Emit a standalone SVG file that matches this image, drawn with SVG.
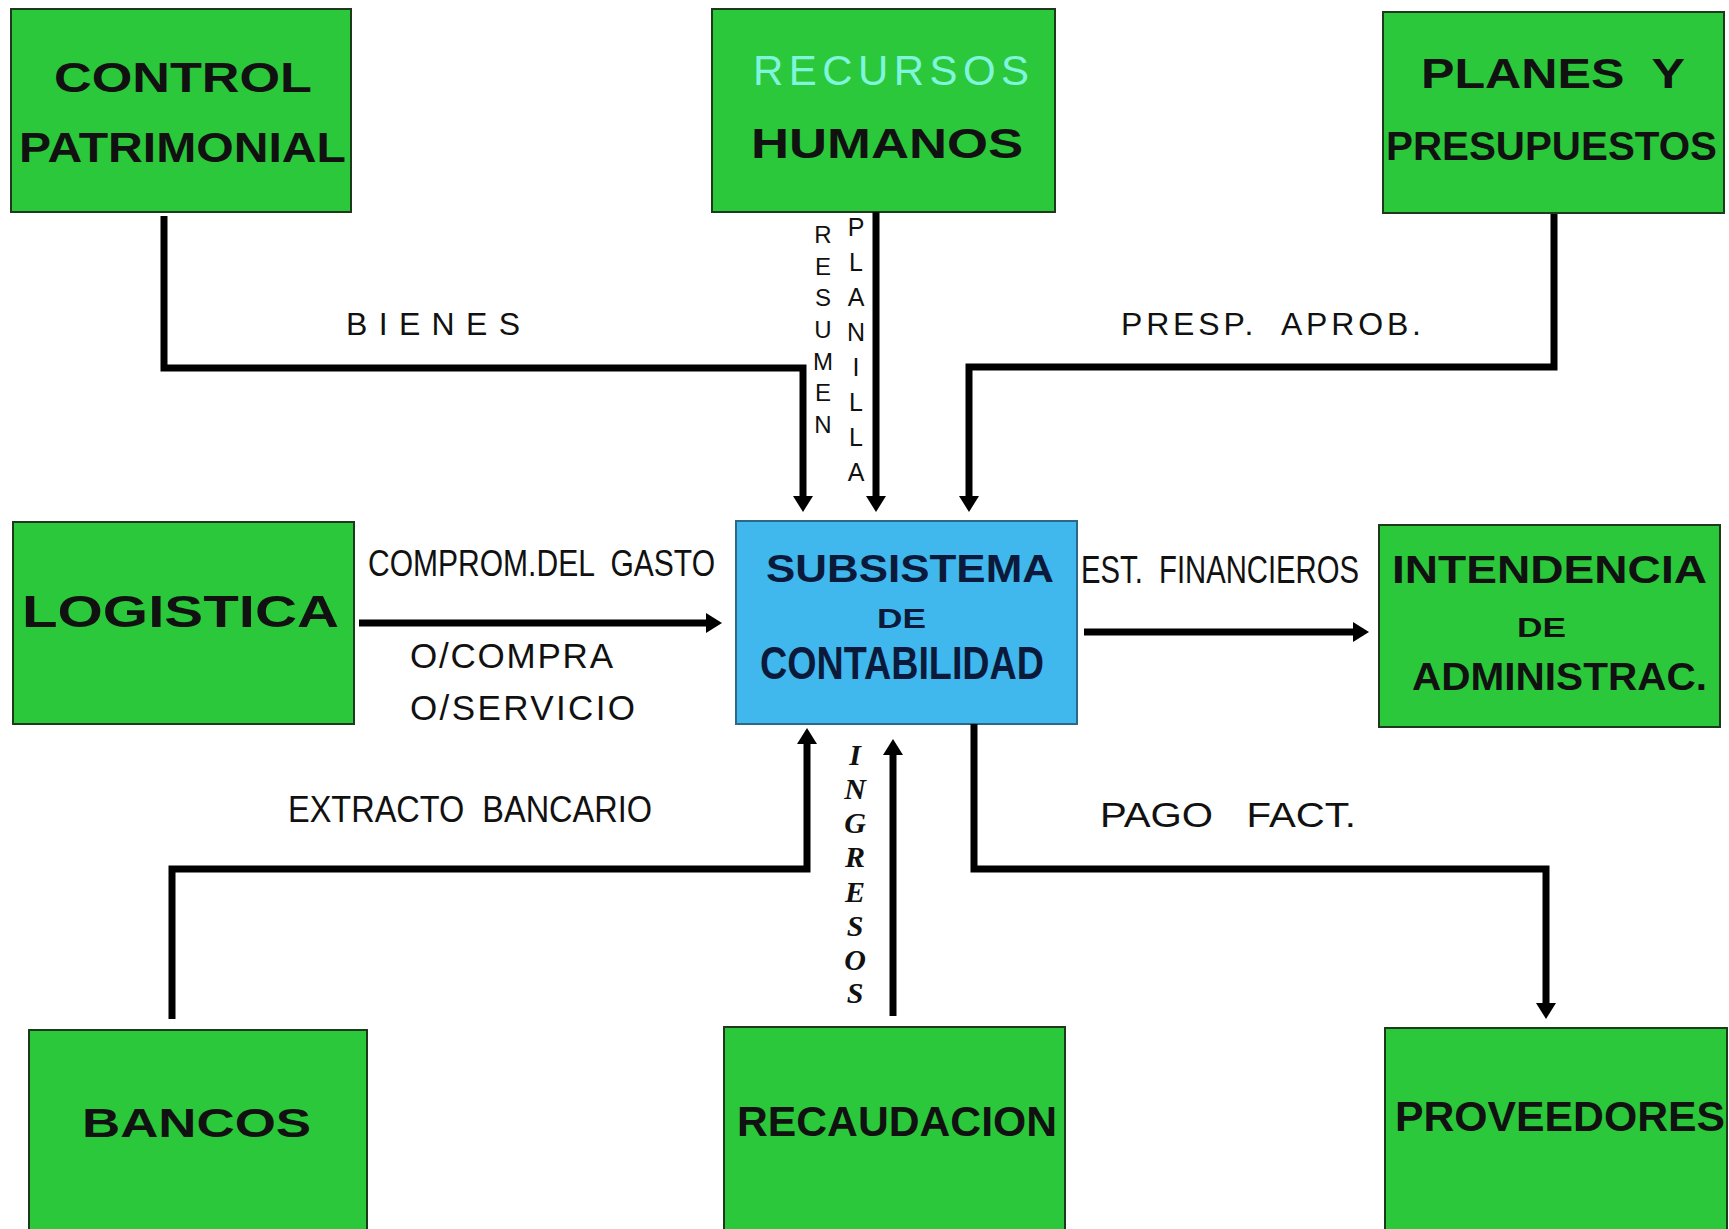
<svg xmlns="http://www.w3.org/2000/svg" width="1729" height="1229" viewBox="0 0 1729 1229">
<style>
.box{fill:#2bc83b;stroke:#1d3a1d;stroke-width:2}
.core{fill:#40b8ee;stroke:#2a6a88;stroke-width:2}
.bl{font-family:"Liberation Sans",Arial,sans-serif;font-weight:bold;fill:#111}
.cl{font-family:"Liberation Sans",Arial,sans-serif;font-weight:bold;fill:#0b1a3a}
.lb{font-family:"Liberation Sans",Arial,sans-serif;fill:#111;white-space:pre}
.vt{font-family:"Liberation Sans",Arial,sans-serif;fill:#111;text-anchor:middle}
.it{font-family:"Liberation Serif","Times New Roman",serif;font-style:italic;font-weight:bold;fill:#111;text-anchor:middle}
.con{fill:none;stroke:#000;stroke-width:7;stroke-linejoin:miter;marker-end:url(#ah)}
</style>
<defs>
<marker id="ah" viewBox="0 0 16 20" refX="5" refY="10" markerWidth="16" markerHeight="20" markerUnits="userSpaceOnUse" orient="auto">
<path d="M0,0 L16,10 L0,20 z" fill="#000"/>
</marker>
</defs>
<rect width="1729" height="1229" fill="#fff"/>

<g id="control-patrimonial">
<rect class="box" x="11" y="9" width="340" height="203"/>
<text class="bl" x="54" y="92" font-size="42" textLength="258" lengthAdjust="spacingAndGlyphs">CONTROL</text>
<text class="bl" x="19" y="162" font-size="42" textLength="327" lengthAdjust="spacingAndGlyphs">PATRIMONIAL</text>
</g>

<g id="recursos-humanos">
<rect class="box" x="712" y="9" width="343" height="203"/>
<text x="753" y="85" font-size="42" textLength="276" style="font-family:'Liberation Sans',Arial,sans-serif;fill:#80f5dc">RECURSOS</text>
<text class="bl" x="751" y="158" font-size="42" textLength="272" lengthAdjust="spacingAndGlyphs">HUMANOS</text>
</g>

<g id="planes-presupuestos">
<rect class="box" x="1383" y="12" width="341" height="201"/>
<text class="bl" x="1421" y="88" font-size="42" textLength="264" lengthAdjust="spacingAndGlyphs" style="white-space:pre">PLANES  Y</text>
<text class="bl" x="1386" y="160" font-size="41" textLength="331" lengthAdjust="spacingAndGlyphs">PRESUPUESTOS</text>
</g>

<g id="logistica">
<rect class="box" x="13" y="522" width="341" height="202"/>
<text class="bl" x="22" y="627" font-size="44" textLength="317" lengthAdjust="spacingAndGlyphs">LOGISTICA</text>
</g>

<g id="subsistema-contabilidad">
<rect class="core" x="736" y="521" width="341" height="203"/>
<text class="cl" x="766" y="582" font-size="39" textLength="288" lengthAdjust="spacingAndGlyphs">SUBSISTEMA</text>
<text class="cl" x="877" y="628" font-size="28" textLength="49" lengthAdjust="spacingAndGlyphs">DE</text>
<text class="cl" x="760" y="679" font-size="46" textLength="284" lengthAdjust="spacingAndGlyphs">CONTABILIDAD</text>
</g>

<g id="intendencia">
<rect class="box" x="1379" y="525" width="341" height="202"/>
<text class="bl" x="1392" y="583" font-size="39" textLength="315" lengthAdjust="spacingAndGlyphs">INTENDENCIA</text>
<text class="bl" x="1517" y="637" font-size="28" textLength="49" lengthAdjust="spacingAndGlyphs">DE</text>
<text class="bl" x="1412" y="690" font-size="39" textLength="295" lengthAdjust="spacingAndGlyphs">ADMINISTRAC.</text>
</g>

<g id="bancos">
<rect class="box" x="29" y="1030" width="338" height="212"/>
<text class="bl" x="82" y="1137" font-size="40" textLength="229" lengthAdjust="spacingAndGlyphs">BANCOS</text>
</g>

<g id="recaudacion">
<rect class="box" x="724" y="1027" width="341" height="215"/>
<text class="bl" x="737" y="1136" font-size="42" textLength="320" lengthAdjust="spacingAndGlyphs">RECAUDACION</text>
</g>

<g id="proveedores">
<rect class="box" x="1385" y="1028" width="342" height="214"/>
<text class="bl" x="1395" y="1131" font-size="42" textLength="330" lengthAdjust="spacingAndGlyphs">PROVEEDORES</text>
</g>

<g id="connectors">
<path class="con" d="M164,216 V368 H803 V501"/>
<path class="con" d="M876,212 V501"/>
<path class="con" d="M1554,214 V367 H969 V501"/>
<path class="con" d="M359,623 H711"/>
<path class="con" d="M1084,632 H1358"/>
<path class="con" d="M172,1019 V869 H807 V739"/>
<path class="con" d="M893,1016 V750"/>
<path class="con" d="M974,724 V869 H1546 V1008"/>
</g>

<g id="labels">
<text class="lb" x="346" y="335" font-size="32" textLength="174">BIENES</text>
<text class="lb" x="1121" y="335" font-size="32" textLength="300">PRESP.  APROB.</text>
<text class="lb" x="368" y="576" font-size="37" textLength="347" lengthAdjust="spacingAndGlyphs">COMPROM.DEL  GASTO</text>
<text class="lb" x="410" y="668" font-size="35" textLength="203">O/COMPRA</text>
<text class="lb" x="410" y="720" font-size="35" textLength="225">O/SERVICIO</text>
<text class="lb" x="288" y="822" font-size="37" textLength="364" lengthAdjust="spacingAndGlyphs">EXTRACTO  BANCARIO</text>
<text class="lb" transform="translate(1081,583) scale(0.75,1)" font-size="39">EST.  FINANCIEROS</text>
<text class="lb" x="1100" y="827" font-size="35" textLength="256" lengthAdjust="spacingAndGlyphs">PAGO   FACT.</text>
<g class="vt" font-size="24">
<text x="823" y="243">R</text><text x="823" y="275">E</text><text x="823" y="306">S</text><text x="823" y="338">U</text><text x="823" y="370">M</text><text x="823" y="401">E</text><text x="823" y="433">N</text>
</g>
<g class="vt" font-size="25">
<text x="856" y="236">P</text><text x="856" y="271">L</text><text x="856" y="306">A</text><text x="856" y="341">N</text><text x="856" y="376">I</text><text x="856" y="411">L</text><text x="856" y="446">L</text><text x="856" y="481">A</text>
</g>
<g class="it" font-size="30">
<text x="855" y="765">I</text><text x="855" y="799">N</text><text x="855" y="833">G</text><text x="855" y="867">R</text><text x="855" y="902">E</text><text x="855" y="936">S</text><text x="855" y="970">O</text><text x="855" y="1003">S</text>
</g>
</g>
</svg>
